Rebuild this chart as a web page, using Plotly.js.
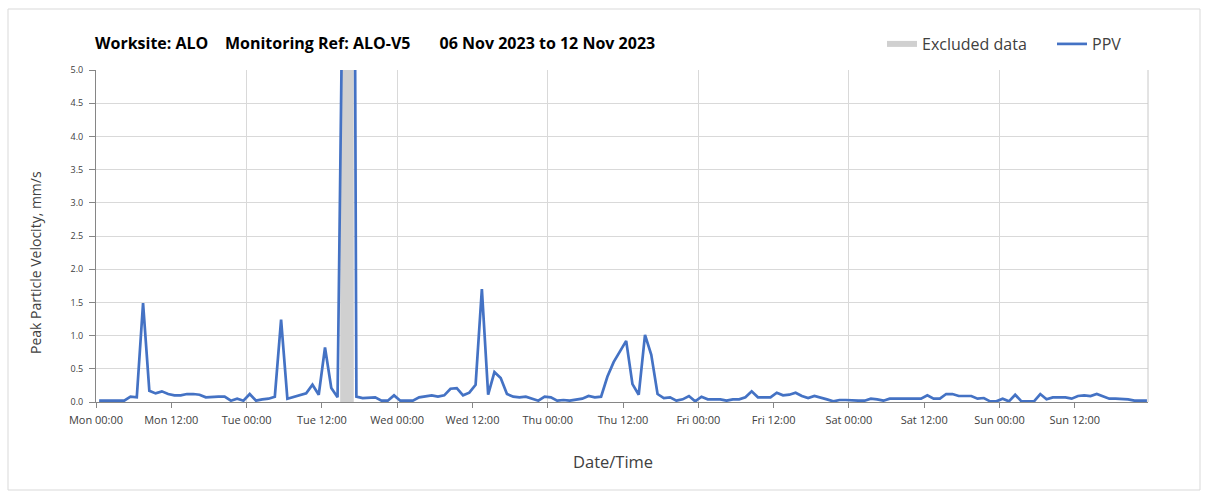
<!DOCTYPE html>
<html>
<head>
<meta charset="utf-8">
<script src="https://cdn.plot.ly/plotly-3.0.1.min.js"></script>
<style>html,body{margin:0;padding:0;background:#fff;}#chart{width:1208px;height:493px;}</style>
</head>
<body>
<div id="chart"></div>
<script>
// Hourly samples (taken at hh:30) starting Mon 06 Nov 2023 00:30
const startTime = '2023-11-06T00:30:00';
const stepHours = 1;
const ppvValues = [
  0.02,0.02,0.02,0.02,0.02,0.08,0.07,1.49,0.17,0.13,0.16,0.12,0.10,0.10,0.12,0.12,0.11,0.07,0.08,0.08,0.08,0.02,0.05,0.02,
  0.12,0.02,0.04,0.05,0.08,1.24,0.05,0.08,0.10,0.13,0.26,0.11,0.82,0.21,0.07,8.00,25.0,0.08,0.06,0.06,0.07,0.02,0.02,0.10,
  0.02,0.02,0.02,0.07,0.08,0.10,0.08,0.10,0.20,0.21,0.10,0.14,0.26,1.70,0.11,0.45,0.36,0.12,0.08,0.07,0.08,0.05,0.02,0.08,
  0.07,0.02,0.03,0.02,0.03,0.05,0.09,0.07,0.08,0.38,0.60,0.76,0.92,0.27,0.11,1.01,0.71,0.12,0.06,0.07,0.02,0.04,0.09,0.01,
  0.08,0.04,0.04,0.04,0.02,0.04,0.04,0.07,0.16,0.07,0.07,0.07,0.14,0.10,0.11,0.14,0.09,0.06,0.09,0.07,0.04,0.01,0.03,0.03,
  0.02,0.02,0.02,0.05,0.04,0.02,0.05,0.05,0.05,0.05,0.05,0.05,0.10,0.05,0.05,0.12,0.12,0.09,0.09,0.09,0.05,0.06,0.01,0.01,
  0.05,0.01,0.11,0.01,0.01,0.01,0.12,0.04,0.07,0.07,0.07,0.05,0.09,0.10,0.09,0.12,0.08,0.05,0.05,0.05,0.04,0.02,0.02,0.02
];
// Excluded data period
const excludedStart = '2023-11-07T14:55:00';
const excludedEnd = '2023-11-07T17:05:00';
const excludedTop = 5;

const xRange = ['2023-11-06T00:00:00', '2023-11-12T23:40:00'];
const yRange = [0, 5];

const t0 = new Date(startTime + 'Z').getTime();
const ppvTimes = ppvValues.map((_, i) => new Date(t0 + i * stepHours * 3600000).toISOString().slice(0,19));

const traces = [
  {
    type: 'scatter', mode: 'none', name: 'Excluded data',
    x: [excludedStart, excludedStart, excludedEnd, excludedEnd, excludedStart],
    y: [0, excludedTop, excludedTop, 0, 0],
    fill: 'toself', fillcolor: '#d0d0d0',
    xaxis: 'x', yaxis: 'y', hoverinfo: 'skip'
  },
  {
    type: 'scatter', mode: 'lines', name: 'PPV',
    x: ppvTimes, y: ppvValues,
    line: {color: '#4472C4', width: 2.7},
    xaxis: 'x2', yaxis: 'y'
  }
];

const sp = '\u00a0';
const layout = {
  width: 1208, height: 493,
  margin: {l: 96, r: 60, t: 70, b: 91, autoexpand: false},
  paper_bgcolor: '#ffffff', plot_bgcolor: '#ffffff',
  font: {family: 'Open Sans, sans-serif', color: '#404040'},
  title: {
    text: '<b>Worksite: ALO' + sp.repeat(4) + 'Monitoring Ref: ALO-V5' + sp.repeat(7) + '06 Nov 2023 to 12 Nov 2023</b>',
    x: 95/1208, xanchor: 'left', y: 1 - 43/493, yanchor: 'middle',
    font: {size: 16, color: '#000000', family: 'Open Sans, sans-serif'}
  },
  showlegend: true,
  legend: {
    orientation: 'h', x: (882-96)/1052, xanchor: 'left', y: (402-44)/332, yanchor: 'middle',
    font: {size: 16, color: '#404040'}, bgcolor: 'rgba(0,0,0,0)',
    traceorder: 'normal', entrywidth: 125, entrywidthmode: 'pixels'
  },
  xaxis: {
    type: 'date', range: xRange,
    dtick: 12 * 3600000, tick0: '2023-11-06T00:00:00',
    tickformat: '%a %H:%M',
    showgrid: false, zeroline: false,
    showline: true, linecolor: '#868686', linewidth: 1,
    ticks: 'outside', ticklen: 5, tickcolor: '#868686',
    ticklabelstandoff: 3,
    tickfont: {size: 11, color: '#404040'}
  },
  xaxis2: {
    type: 'date', overlaying: 'x', matches: 'x', anchor: 'y',
    dtick: 24 * 3600000, tick0: '2023-11-06T00:00:00',
    showgrid: true, gridcolor: '#d9d9d9', gridwidth: 1,
    showticklabels: false, ticks: '', showline: false, zeroline: false
  },
  yaxis: {
    range: yRange, dtick: 0.5, tickformat: '.1f',
    showgrid: true, gridcolor: '#d9d9d9', gridwidth: 1,
    zeroline: false,
    showline: true, linecolor: '#868686', linewidth: 1,
    ticks: 'outside', ticklen: 6, tickcolor: '#868686',
    ticklabelstandoff: 4,
    tickfont: {size: 9, color: '#404040'}
  },
  annotations: [
    {text: 'Peak Particle Velocity, mm/s', textangle: -90, showarrow: false,
     xref: 'paper', yref: 'paper', x: (35-96)/1052, y: (402-263)/332, xanchor: 'center', yanchor: 'middle',
     font: {size: 14, color: '#404040'}},
    {text: 'Date/Time', showarrow: false,
     xref: 'paper', yref: 'paper', x: (613-96)/1052, y: (402-461)/332, xanchor: 'center', yanchor: 'middle',
     font: {size: 16.5, color: '#404040'}}
  ],
  shapes: [
    {type: 'line', xref: 'paper', yref: 'paper', x0: 1, x1: 1, y0: 0, y1: 1, line: {color: '#c8c8c8', width: 1}},
    {type: 'rect', xref: 'paper', yref: 'paper', x0: (8-96)/1052, x1: (1200-96)/1052, y0: (402-490)/332, y1: (402-9)/332, line: {color: '#d9d9d9', width: 1}, layer: 'below'}
  ]
};

Plotly.newPlot('chart', traces, layout, {displayModeBar: false, staticPlot: true});
</script>
</body>
</html>
